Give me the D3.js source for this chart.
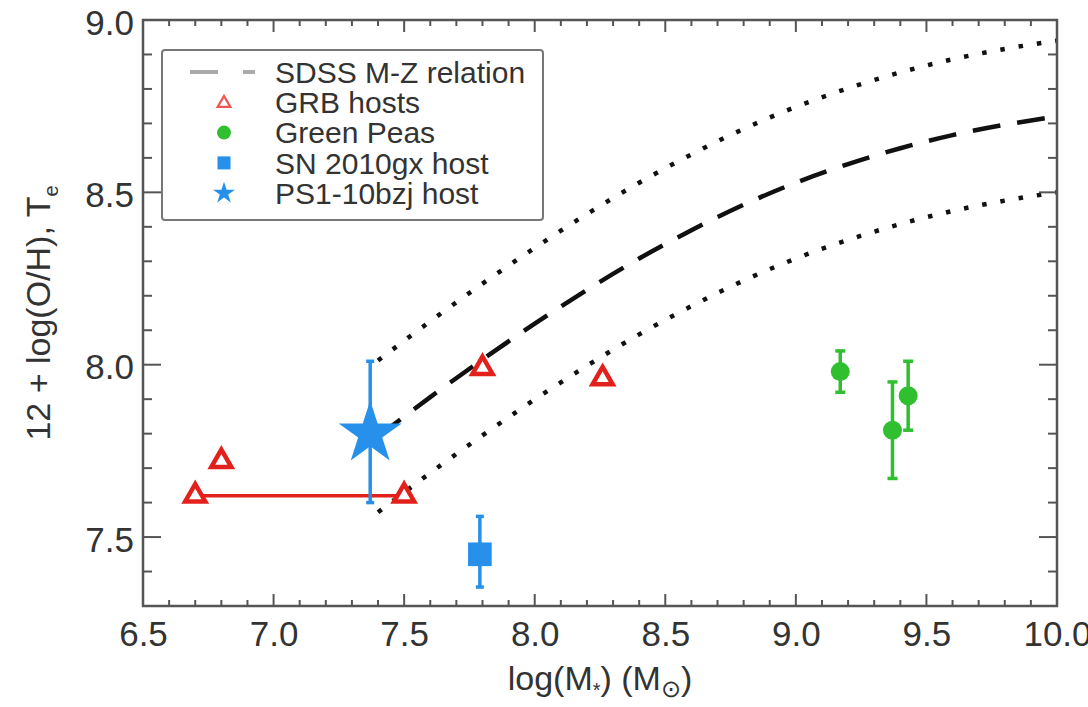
<!DOCTYPE html>
<html>
<head>
<meta charset="utf-8">
<script src="https://cdn.jsdelivr.net/npm/d3@7"></script>
<style>
  html, body { margin: 0; padding: 0; background: #fff; }
  svg { display: block; font-family: "Liberation Sans", Arial, Helvetica, sans-serif; }
</style>
</head>
<body>
<svg id="chart" width="1088" height="707"></svg>
<script>
// ---- data ----
const xTicks = [6.5, 7.0, 7.5, 8.0, 8.5, 9.0, 9.5, 10.0];
const yTicks = [7.5, 8.0, 8.5, 9.0];

// SDSS mass-metallicity relation (dashed) and its scatter (dotted)
const mzX     = [7.4, 7.6, 7.8, 8.0, 8.2, 8.4, 8.6, 8.8, 9.0, 9.2, 9.4, 9.6, 9.8, 10.0];
const mzY     = [7.792, 7.906, 8.015, 8.119, 8.217, 8.308, 8.390, 8.464, 8.528, 8.582, 8.628, 8.666, 8.696, 8.720];
const mzUpper = [8.012, 8.126, 8.235, 8.339, 8.437, 8.528, 8.610, 8.684, 8.748, 8.802, 8.848, 8.886, 8.916, 8.940];
const mzLower = [7.572, 7.686, 7.795, 7.899, 7.997, 8.088, 8.170, 8.244, 8.308, 8.362, 8.408, 8.446, 8.476, 8.500];

// GRB hosts
const grbX = [6.70, 6.80, 7.50, 7.80, 8.26];
const grbY = [7.62, 7.72, 7.62, 7.99, 7.96];
const grbRangeX = [6.70, 7.50];
const grbRangeY = 7.62;

// Green Peas
const gpX  = [9.17, 9.37, 9.43];
const gpY  = [7.98, 7.81, 7.91];
const gpLo = [7.92, 7.67, 7.81];
const gpHi = [8.04, 7.95, 8.01];

// SN 2010gx host
const snX = [7.79], snY = [7.45], snLo = [7.355], snHi = [7.56];
// PS1-10bzj host
const psX = [7.37], psY = [7.80], psLo = [7.60], psHi = [8.01];

const legendLabels = ["SDSS M-Z relation", "GRB hosts", "Green Peas", "SN 2010gx host", "PS1-10bzj host"];

// ---- layout / style ----
const RED = "#e3211c", GREEN = "#2fbf2f", BLUE = "#2690ea", FRAME = "#555";
const L = 143, R = 1057, T = 20, B = 606;

const svg = d3.select("#chart");
svg.append("rect").attr("width", 1088).attr("height", 707).attr("fill", "#fff");

const x = d3.scaleLinear().domain([6.5, 10.0]).range([L, R]);
const y = d3.scaleLinear().domain([7.3, 9.0]).range([B, T]);

svg.append("clipPath").attr("id", "clip")
  .append("rect").attr("x", L).attr("y", T).attr("width", R - L).attr("height", B - T);

const plot = svg.append("g").attr("clip-path", "url(#clip)");

// ---- curves ----
const line = d3.line().x(d => x(d[0])).y(d => y(d[1])).curve(d3.curveMonotoneX);
plot.append("path").datum(d3.zip(mzX, mzUpper)).attr("d", line)
  .attr("fill", "none").attr("stroke", "#111").attr("stroke-width", 4.5).attr("stroke-dasharray", "4.5 14");
plot.append("path").datum(d3.zip(mzX, mzLower)).attr("d", line)
  .attr("fill", "none").attr("stroke", "#111").attr("stroke-width", 4.5).attr("stroke-dasharray", "4.5 14");
plot.append("path").datum(d3.zip(mzX, mzY)).attr("d", line)
  .attr("fill", "none").attr("stroke", "#111").attr("stroke-width", 4.5).attr("stroke-dasharray", "28 17");

// ---- GRB range line ----
plot.append("line")
  .attr("x1", x(grbRangeX[0])).attr("x2", x(grbRangeX[1]))
  .attr("y1", y(grbRangeY)).attr("y2", y(grbRangeY))
  .attr("stroke", RED).attr("stroke-width", 3.5);

// ---- error bars helper ----
function errBars(xs, lo, hi, color, w, cap) {
  const g = plot.append("g").attr("stroke", color).attr("stroke-width", w);
  xs.forEach((xv, i) => {
    g.append("line").attr("x1", x(xv)).attr("x2", x(xv)).attr("y1", y(lo[i])).attr("y2", y(hi[i]));
    g.append("line").attr("x1", x(xv) - cap).attr("x2", x(xv) + cap).attr("y1", y(lo[i])).attr("y2", y(lo[i]));
    g.append("line").attr("x1", x(xv) - cap).attr("x2", x(xv) + cap).attr("y1", y(hi[i])).attr("y2", y(hi[i]));
  });
}

// PS1 star
errBars(psX, psLo, psHi, BLUE, 3.5, 4);
plot.selectAll(".ps").data(d3.zip(psX, psY)).join("path")
  .attr("transform", d => `translate(${x(d[0])},${y(d[1])})`)
  .attr("d", d3.symbol(d3.symbolStar, 1230)).attr("fill", BLUE);

// SN 2010gx square
errBars(snX, snLo, snHi, BLUE, 3.5, 4);
plot.selectAll(".sn").data(d3.zip(snX, snY)).join("path")
  .attr("transform", d => `translate(${x(d[0])},${y(d[1])})`)
  .attr("d", d3.symbol(d3.symbolSquare, 560)).attr("fill", BLUE);

// Green peas
errBars(gpX, gpLo, gpHi, GREEN, 3.5, 5);
plot.selectAll(".gp").data(d3.zip(gpX, gpY)).join("circle")
  .attr("cx", d => x(d[0])).attr("cy", d => y(d[1])).attr("r", 9.5).attr("fill", GREEN);

// GRB triangles
plot.selectAll(".grb").data(d3.zip(grbX, grbY)).join("path")
  .attr("transform", d => `translate(${x(d[0])},${y(d[1])})`)
  .attr("d", d3.symbol(d3.symbolTriangle, 175))
  .attr("fill", "#fff").attr("stroke", RED).attr("stroke-width", 4.5).attr("stroke-linejoin", "miter");

// ---- frame & ticks ----
svg.append("rect").attr("x", L).attr("y", T).attr("width", R - L).attr("height", B - T)
  .attr("fill", "none").attr("stroke", FRAME).attr("stroke-width", 2.5);

const xMinor = d3.range(65, 101).map(v => v / 10);
const yMinor = d3.range(73, 91).map(v => v / 10);
const isMajor = v => Math.abs(v * 2 - Math.round(v * 2)) < 1e-6;
const tg = svg.append("g").attr("stroke", FRAME).attr("stroke-width", 2);
xMinor.forEach(v => {
  const len = isMajor(v) ? 12 : 6;
  tg.append("line").attr("x1", x(v)).attr("x2", x(v)).attr("y1", B).attr("y2", B - len);
  tg.append("line").attr("x1", x(v)).attr("x2", x(v)).attr("y1", T).attr("y2", T + len);
});
yMinor.forEach(v => {
  const len = isMajor(v) ? 18 : 9;
  tg.append("line").attr("x1", L).attr("x2", L + len).attr("y1", y(v)).attr("y2", y(v));
  tg.append("line").attr("x1", R).attr("x2", R - len).attr("y1", y(v)).attr("y2", y(v));
});

// tick labels via d3 axes (labels only; tick lines drawn above)
const xAxis = d3.axisBottom(x).tickValues(xTicks).tickFormat(d3.format(".1f")).tickSize(0).tickPadding(0);
const gx = svg.append("g").attr("transform", `translate(0,${B + 40})`).call(xAxis);
gx.select(".domain").remove();
gx.selectAll("text").attr("font-size", 35).attr("fill", "#333").attr("dy", 0)
  .attr("font-family", "Liberation Sans, Arial, sans-serif");

const yAxis = d3.axisLeft(y).tickValues(yTicks).tickFormat(d3.format(".1f")).tickSize(0).tickPadding(9);
const gy = svg.append("g").attr("transform", `translate(${L},0)`).call(yAxis);
gy.select(".domain").remove();
gy.selectAll("text").attr("font-size", 35).attr("fill", "#333").attr("dy", "0.4em")
  .attr("font-family", "Liberation Sans, Arial, sans-serif");

// axis titles
const xt = svg.append("text").attr("x", (L + R) / 2).attr("y", 690).attr("text-anchor", "middle")
  .attr("font-size", 34).attr("fill", "#333");
xt.append("tspan").text("log(M");
xt.append("tspan").text("*").attr("font-size", 20).attr("dy", 7);
xt.append("tspan").text(") (M").attr("dy", -7);
xt.append("tspan").text("\u2299").attr("font-size", 24).attr("dy", 7);
xt.append("tspan").text(")").attr("dy", -7);

const yt = svg.append("text").attr("transform", `translate(50,${(T + B) / 2}) rotate(-90)`)
  .attr("text-anchor", "middle").attr("font-size", 34).attr("fill", "#333");
yt.append("tspan").text("12 + log(O/H), T");
yt.append("tspan").text("e").attr("font-size", 20).attr("dy", 8);

// ---- legend ----
const lg = svg.append("g");
lg.append("rect").attr("x", 162).attr("y", 50).attr("width", 381).attr("height", 170).attr("rx", 3)
  .attr("fill", "#fff").attr("stroke", "#777").attr("stroke-width", 2);
const rowY = i => 72 + i * 30.3;
const mx = 224;
lg.append("line").attr("x1", 190).attr("x2", 218).attr("y1", rowY(0)).attr("y2", rowY(0))
  .attr("stroke", "#aaa").attr("stroke-width", 4);
lg.append("line").attr("x1", 243).attr("x2", 255).attr("y1", rowY(0)).attr("y2", rowY(0))
  .attr("stroke", "#aaa").attr("stroke-width", 4);
lg.append("path").attr("transform", `translate(${mx},${rowY(1) + 1})`)
  .attr("d", d3.symbol(d3.symbolTriangle, 70)).attr("fill", "#fff").attr("stroke", "#e55").attr("stroke-width", 2.2);
lg.append("circle").attr("cx", mx).attr("cy", rowY(2)).attr("r", 7).attr("fill", GREEN);
lg.append("path").attr("transform", `translate(${mx},${rowY(3)})`)
  .attr("d", d3.symbol(d3.symbolSquare, 170)).attr("fill", BLUE);
lg.append("path").attr("transform", `translate(${mx},${rowY(4)})`)
  .attr("d", d3.symbol(d3.symbolStar, 150)).attr("fill", BLUE);
legendLabels.forEach((t, i) => {
  lg.append("text").attr("x", 275).attr("y", rowY(i)).attr("dy", "0.36em")
    .attr("font-size", 30).attr("fill", "#333").text(t);
});
</script>
</body>
</html>
